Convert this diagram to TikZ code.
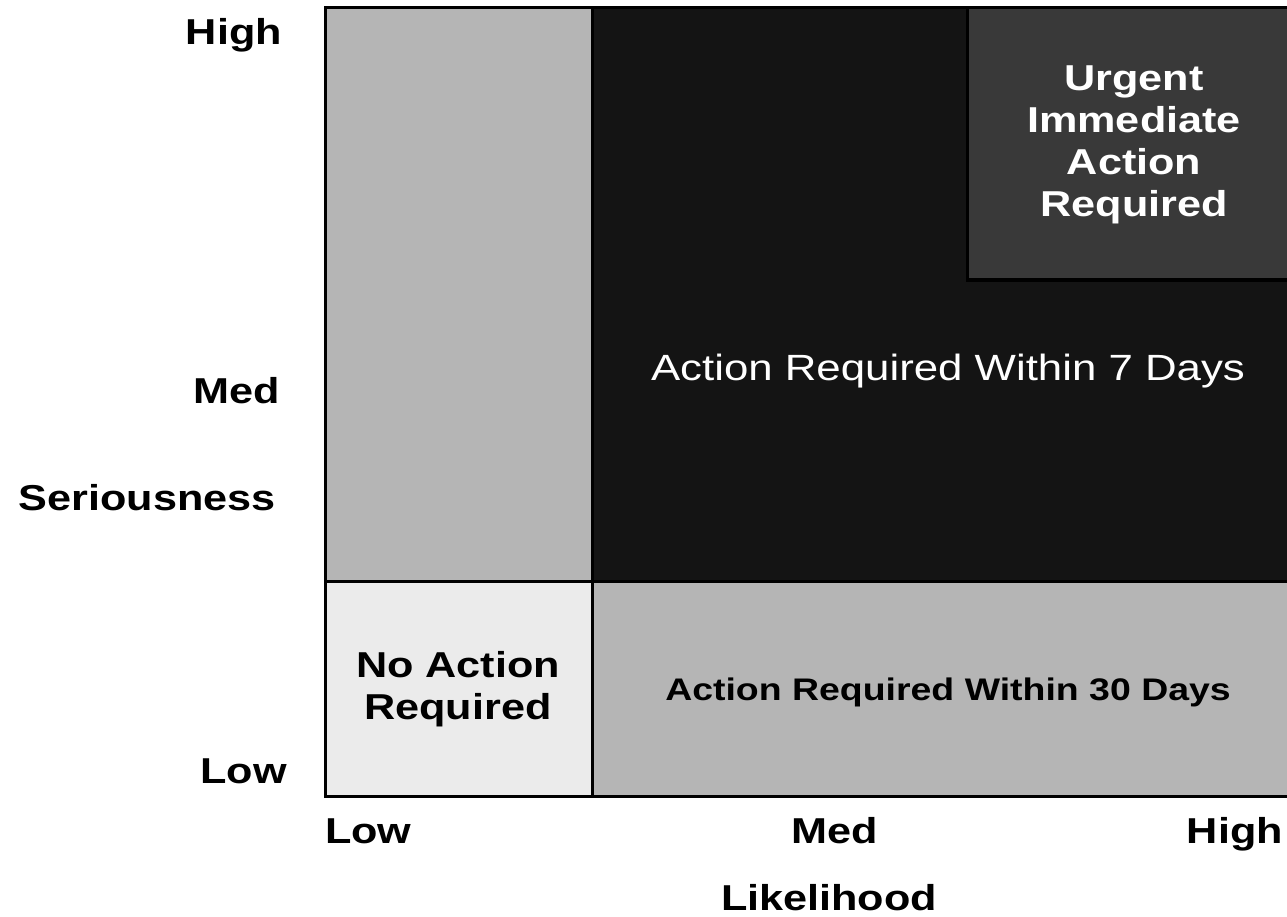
\documentclass[tikz,border=0pt]{standalone}
\usepackage{fontspec}
\setmainfont{Liberation Sans}[FakeStretch=1.2]
\definecolor{midgray}{HTML}{B5B5B5}
\definecolor{nearblack}{HTML}{141414}
\definecolor{urgentgray}{HTML}{393939}
\definecolor{palegray}{HTML}{EBEBEB}
\tikzset{
  cell/.style={draw=black, line width=3pt},
  axislabel/.style={font=\fontsize{36}{42}\selectfont\bfseries, inner sep=0pt, text=black},
  celltext/.style={font=\fontsize{36}{42}\selectfont\bfseries, inner sep=0pt, align=center},
}
\begin{document}
\begin{tikzpicture}[x=1pt,y=-1pt]
\useasboundingbox (0,0) rectangle (1287,917);
% cells
\path[cell, fill=midgray] (325,8) rectangle (592,581);
\path[cell, fill=nearblack] (592,8) rectangle (1292,581);
\path[cell, fill=urgentgray] (967,8) rectangle (1292,280);
\path[cell, fill=palegray] (325,581) rectangle (592,796);
\path[cell, fill=midgray] (592,581) rectangle (1292,796);
% cell texts
\node[celltext, text=white] (urgent) at (1134,145) {Urgent\\Immediate\\Action\\Required};
\node[font=\fontsize{36.5}{42}\selectfont, inner sep=0pt, text=white, anchor=base] (seven) at (948,380) {Action Required Within 7 Days};
\node[celltext, text=black] (noaction) at (458,689) {No Action\\Required};
\node[font=\fontsize{31.2}{36}\selectfont\bfseries, inner sep=0pt, text=black, anchor=base] (thirty) at (948,700) {Action Required Within 30 Days};
% vertical axis labels
\node[axislabel, anchor=base east] (shigh) at (282,45) {High};
\node[axislabel, anchor=base east] (smed) at (280,403) {Med};
\node[axislabel, anchor=base east] (sername) at (276,510) {Seriousness};
\node[axislabel, anchor=base east] (slow) at (287,783) {Low};
% horizontal axis labels
\node[axislabel, anchor=base west] (llow) at (325,843) {Low};
\node[axislabel, anchor=base] (lmed) at (835,843) {Med};
\node[axislabel, anchor=base east] (lhigh) at (1283,843) {High};
\node[axislabel, anchor=base] (lname) at (829,910) {Likelihood};
\end{tikzpicture}
\end{document}
